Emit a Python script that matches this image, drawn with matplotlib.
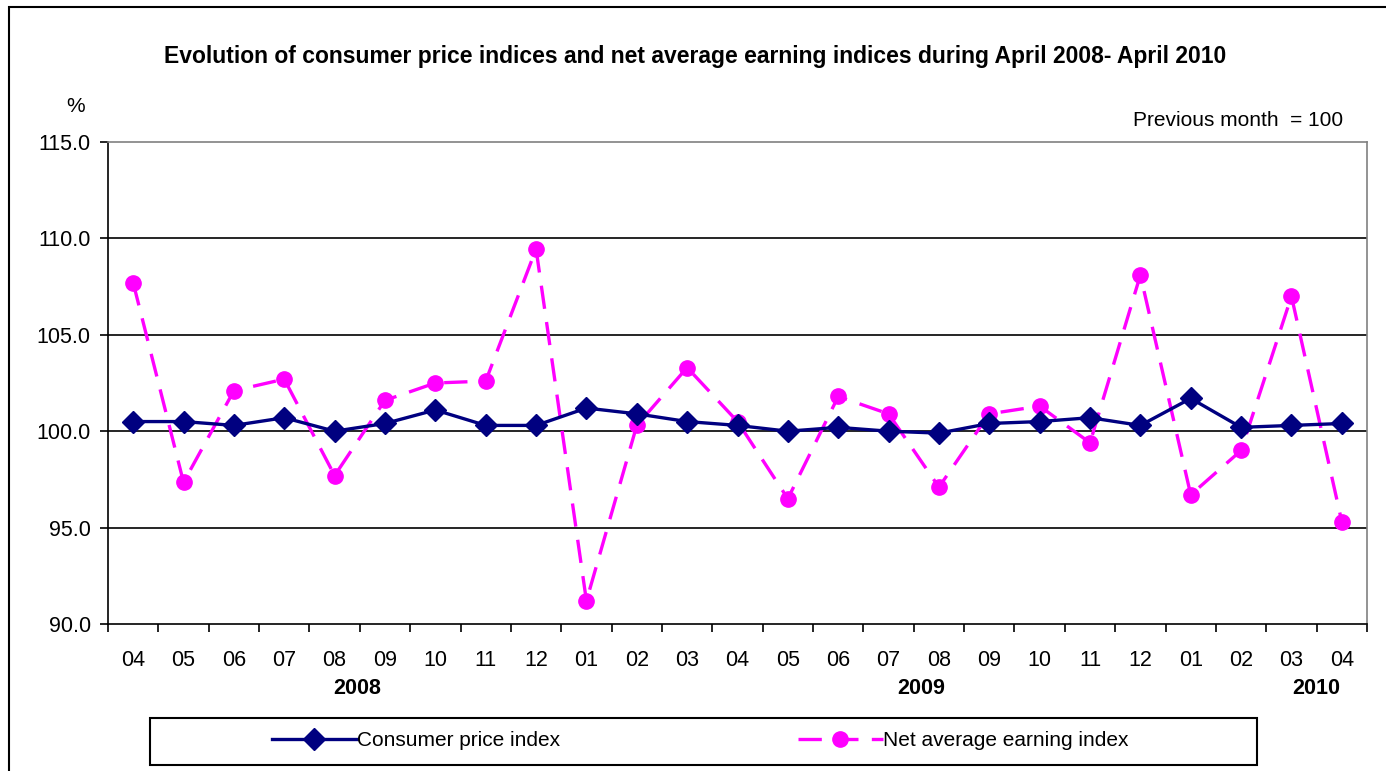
import numpy as np
import matplotlib
matplotlib.use("Agg")
import matplotlib.pyplot as plt
from matplotlib.patches import Rectangle

plt.rcParams['font.family'] = ['Liberation Sans', 'DejaVu Sans']

months = ["04", "05", "06", "07", "08", "09", "10", "11", "12",
          "01", "02", "03", "04", "05", "06", "07", "08", "09", "10", "11", "12",
          "01", "02", "03", "04"]
years = ["2008", "2009", "2010"]
year_pos = [4.45, 15.65, 23.5]

cpi = [100.5, 100.5, 100.3, 100.7, 100.0, 100.4, 101.1, 100.3, 100.3,
       101.2, 100.9, 100.5, 100.3, 100.0, 100.2, 100.0, 99.9, 100.4, 100.5, 100.7, 100.3,
       101.7, 100.2, 100.3, 100.4]
earn = [107.7, 97.35, 102.1, 102.7, 97.7, 101.6, 102.5, 102.6, 109.45,
        91.2, 100.3, 103.3, 100.5, 96.5, 101.8, 100.9, 97.1, 100.9, 101.3, 99.4, 108.1,
        96.7, 99.0, 107.0, 95.3]

W, H = 1386, 771
fig = plt.figure(figsize=(W / 100, H / 100), dpi=100)

# outer chart border (only left/top visible in the original crop)
fig.add_artist(Rectangle((9 / W, -0.1), 2, 1.1 - 7 / H, transform=fig.transFigure,
                         fill=False, edgecolor='black', linewidth=1.5))

ax = fig.add_axes([108 / W, 1 - 624 / H, (1367 - 108) / W, (624 - 142) / H])

x = np.arange(len(months))
navy = '#000080'
magenta = '#FF00FF'

ax.plot(x, cpi, color=navy, linewidth=2.4, marker='D', markersize=11,
        label='Consumer price index', zorder=3)
ax.plot(x, earn, color=magenta, linewidth=2.4, dashes=(7, 4), marker='o',
        markersize=11, label='Net average earning index', zorder=2)

ax.set_xlim(-0.5, len(months) - 0.5)
ax.set_ylim(90, 115)
yt = [90, 95, 100, 105, 110, 115]
ax.set_yticks(yt)
ax.set_yticklabels([f"{v:.1f}" for v in yt], fontsize=15.5)
for v in [95, 100, 105, 110]:
    ax.axhline(v, color='black', linewidth=1.2, zorder=1)

ax.set_xticks(x)
ax.set_xticklabels(months, fontsize=15.5)
ax.set_xticks(np.arange(-0.5, len(months)), minor=True)
ax.tick_params(axis='x', which='major', length=0, pad=19)
ax.tick_params(axis='x', which='minor', length=6, width=1.2, direction='out')
ax.tick_params(axis='y', length=6, width=1.2, direction='out', pad=6.5)

ax.spines['left'].set_linewidth(1.2)
ax.spines['bottom'].set_linewidth(1.2)
ax.spines['top'].set_color('#808080')
ax.spines['right'].set_color('#808080')
ax.spines['top'].set_linewidth(1.2)
ax.spines['right'].set_linewidth(1.2)

for yr, xp in zip(years, year_pos):
    ax.text(xp, -0.133, yr, transform=ax.get_xaxis_transform(), ha='center',
            va='center', fontsize=15.5, fontweight='bold')

fig.text(695 / W, 1 - 57 / H,
         "Evolution of consumer price indices and net average earning indices during April 2008- April 2010",
         ha='center', va='center', fontsize=16.5, fontweight='bold')
fig.text(76 / W, 1 - 107 / H, "%", ha='center', va='center', fontsize=15)
fig.text(1343 / W, 1 - 120 / H, "Previous month  = 100", ha='right', va='center', fontsize=15)

# legend box
fig.add_artist(Rectangle((150 / W, 1 - 765 / H), (1257 - 150) / W, 47 / H,
                         transform=fig.transFigure, fill=False,
                         edgecolor='black', linewidth=1.5))
fig.legend(loc='center', bbox_to_anchor=(700 / W, 1 - 741 / H), ncol=2,
           frameon=False, fontsize=15, numpoints=1, handlelength=4.1,
           handletextpad=0.0, columnspacing=11.4)

fig.savefig("out.png", dpi=100)
